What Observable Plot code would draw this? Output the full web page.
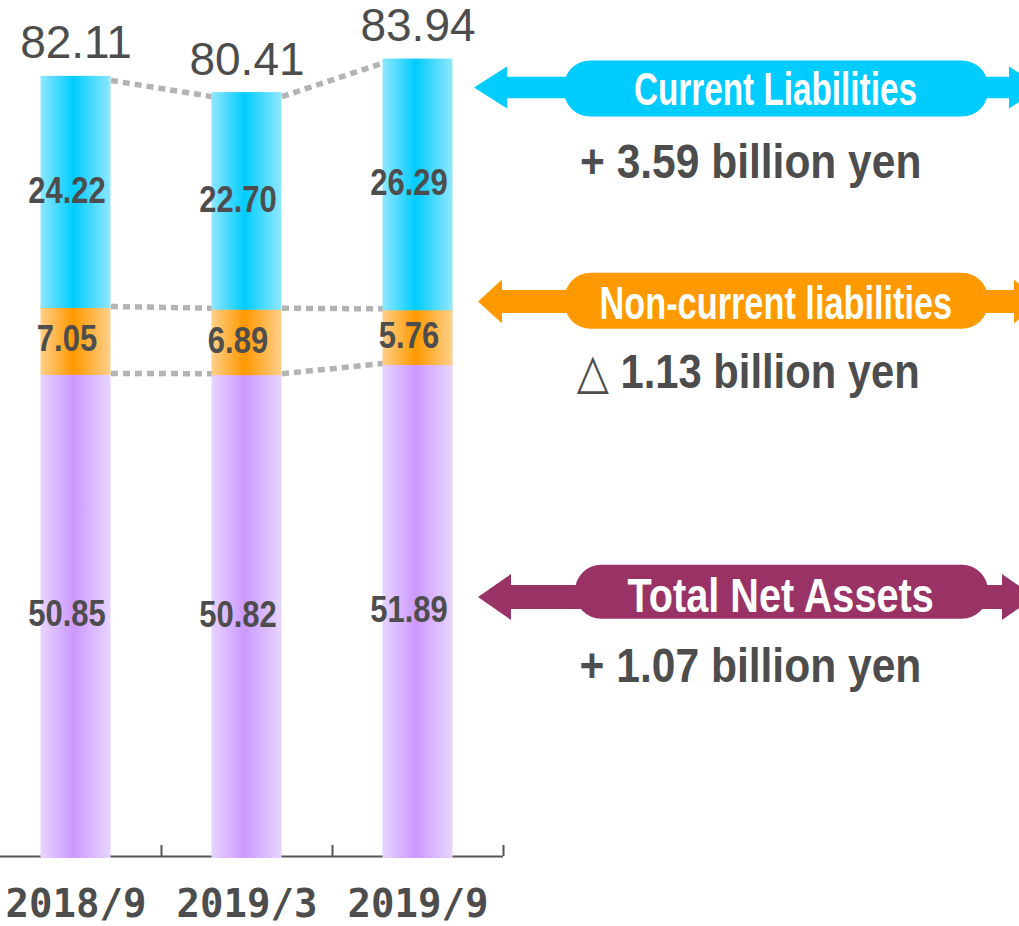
<!DOCTYPE html>
<html><head><meta charset="utf-8">
<script src="https://cdn.jsdelivr.net/npm/d3@7"></script>
<script src="https://cdn.jsdelivr.net/npm/@observablehq/plot@0.6"></script>
<style>
html,body{margin:0;padding:0;background:#fff;}
#chart{position:relative;width:1019px;height:926px;overflow:hidden;}
</style></head><body><div id="chart"></div>
<script>
// ---- data ----
const periods = ["2018/9", "2019/3", "2019/9"];
const netAssets = [50.85, 50.82, 51.89];
const nonCurrent = [7.05, 6.89, 5.76];
const current = [24.22, 22.70, 26.29];
const totals = [82.11, 80.41, 83.94];
const seriesNames = ["Total Net Assets", "Non-current liabilities", "Current Liabilities"];
const changeLabels = ["+ 1.07 billion yen", "△ 1.13 billion yen", "+ 3.59 billion yen"];

// ---- derived table ----
const seriesValues = [netAssets, nonCurrent, current];
const gradIds = ["url(#gNet)", "url(#gNon)", "url(#gCur)"];
const rows = [];
periods.forEach((p, i) => {
  let base = 0;
  seriesValues.forEach((vals, s) => {
    rows.push({i, period: p, series: seriesNames[s], value: vals[i], y1: base, y2: base + vals[i], fill: gradIds[s]});
    base += vals[i];
  });
});
const levelNet = netAssets;
const levelNon = netAssets.map((v, i) => v + nonCurrent[i]);
const links = (levels) => levels.slice(0, -1).map((v, i) => ({i, a: v, b: levels[i + 1]}));

const HALF = 35 / 171;          // bar half width in x units
const PX = 855 / 90;            // px per unit on y
const grey = "#4d4d4d";
const dash = {stroke: "#b3b3b3", strokeWidth: 5.5, strokeDasharray: "7 5"};

const chart = Plot.plot({
  width: 1019, height: 926, margin: 0,
  x: {type: "linear", domain: [-0.5, 2.5], range: [-10, 503], axis: null},
  y: {domain: [0, 90], range: [856, 1], axis: null},
  color: {type: "identity"},
  style: {background: "white", overflow: "visible"},
  marks: [
    Plot.ruleY([0], {x1: -0.5, x2: 2.5, stroke: "#555", strokeWidth: 2}),
    Plot.ruleX(periods.map((p, i) => i + 0.5), {x: d => d, y1: 0, y2: 11 / PX, stroke: "#555", strokeWidth: 2}),
    Plot.link(links(totals), {x1: d => d.i + HALF, x2: d => d.i + 1 - HALF, y1: "a", y2: "b", dy: 4, ...dash}),
    Plot.link(links(levelNon), {x1: d => d.i + HALF, x2: d => d.i + 1 - HALF, y1: "a", y2: "b", ...dash}),
    Plot.link(links(levelNet), {x1: d => d.i + HALF, x2: d => d.i + 1 - HALF, y1: "a", y2: "b", ...dash}),
    Plot.rect(rows, {x1: d => d.i - HALF, x2: d => d.i + HALF, y1: "y1", y2: "y2", fill: "fill", insetBottom: -2}),
    Plot.text(rows, {x: "i", y: d => (d.y1 + d.y2) / 2, text: d => d.value.toFixed(2), dx: -9,
      fontSize: 36, fontWeight: "bold", fontFamily: "'Liberation Sans', sans-serif", fill: grey}),
    Plot.text(totals, {x: (d, i) => i, y: d => d, text: d => d.toFixed(2), dy: -18, lineAnchor: "bottom",
      fontSize: 46, fontFamily: "'Liberation Sans', sans-serif", fill: grey}),
    Plot.text(periods, {x: (d, i) => i, y: 0, text: d => d, dy: 48, lineAnchor: "middle",
      fontSize: 39, fontWeight: "bold", fontFamily: "'DejaVu Sans Mono', monospace", fill: grey})
  ]
});

// gradients
const svg = d3.select(chart);
const defs = svg.insert("defs", ":first-child");
function grad(id, edge, mid) {
  const g = defs.append("linearGradient").attr("id", id).attr("x1", 0).attr("x2", 1).attr("y1", 0).attr("y2", 0);
  g.append("stop").attr("offset", 0).attr("stop-color", edge);
  g.append("stop").attr("offset", 0.47).attr("stop-color", mid);
  g.append("stop").attr("offset", 1).attr("stop-color", edge);
}
grad("gCur", "#90e7ff", "#00ccff");
grad("gNon", "#ffcf8a", "#ff9900");
grad("gNet", "#e7d4ff", "#cc99ff");

// annotations (layout)
const ann = [
  {color: "#00ccff", cy: 87.5, tipL: 474, baseL: 507, headH: 21, shaftH: 10.7, baseR: 1009, tipR: 1042,
   pill: [564, 60.5, 988, 116.5], label: seriesNames[2], lx: [634, 917], lb: 105.3, lfs: 47,
   sub: changeLabels[2], sx: [580, 921.5], sb: 177.8},
  {color: "#ff9900", cy: 301.5, tipL: 478, baseL: 502, headH: 22, shaftH: 11.5, baseR: 1014, tipR: 1040,
   pill: [564.5, 272.8, 988, 328.8], label: seriesNames[1], lx: [599.5, 952.3], lb: 319, lfs: 47,
   sub: changeLabels[1], sx: [576.8, 919.8], sb: 388},
  {color: "#993366", cy: 597, tipL: 478, baseL: 511, headH: 23, shaftH: 12, baseR: 1002, tipR: 1035,
   pill: [575, 564.8, 988, 618.7], label: seriesNames[0], lx: [627.5, 933.8], lb: 612, lfs: 48,
   sub: changeLabels[0], sx: [579.6, 921.5], sb: 681.7}
];
const fitTexts = [];
const g = svg.append("g");
ann.forEach(a => {
  const {cy, tipL, baseL, headH, shaftH, baseR, tipR} = a;
  const d = `M${tipL},${cy} L${baseL},${cy - headH} L${baseL},${cy - shaftH} L${baseR},${cy - shaftH} L${baseR},${cy - headH} L${tipR},${cy} L${baseR},${cy + headH} L${baseR},${cy + shaftH} L${baseL},${cy + shaftH} L${baseL},${cy + headH} Z`;
  g.append("path").attr("d", d).attr("fill", a.color);
  const [x1, y1, x2, y2] = a.pill;
  g.append("rect").attr("x", x1).attr("y", y1).attr("width", x2 - x1).attr("height", y2 - y1)
    .attr("rx", 26).attr("ry", 26).attr("fill", a.color);
  const t1 = g.append("text").attr("x", 0).attr("y", 0).attr("text-anchor", "start")
    .attr("fill", "white").attr("font-weight", "bold")
    .attr("font-size", a.lfs).attr("font-family", "'Liberation Sans', sans-serif")
    .text(a.label);
  fitTexts.push([t1, a.lx[0], a.lx[1], a.lb]);
  const t2 = g.append("text").attr("x", 0).attr("y", 0).attr("text-anchor", "start")
    .attr("fill", grey).attr("font-weight", "bold")
    .attr("font-size", 49).attr("font-family", "'Liberation Sans', 'DejaVu Sans', sans-serif")
    .text(a.sub);
  fitTexts.push([t2, a.sx[0], a.sx[1], a.sb]);
});

document.getElementById("chart").appendChild(chart);

// fit annotation texts horizontally (condensed look of the original)
fitTexts.forEach(([t, xa, xb, base]) => {
  const len = t.node().getComputedTextLength();
  t.attr("transform", `translate(${xa},${base}) scale(${(xb - xa) / len},1)`);
});

// narrow the segment labels: the text mark whose texts are 36px
svg.selectAll("g[aria-label='text']").each(function () {
  const grp = d3.select(this);
  if (grp.attr("font-size") !== "36") return;
  grp.selectAll("text").each(function () {
    const len = this.getComputedTextLength();
    d3.select(this).attr("textLength", len * 0.86).attr("lengthAdjust", "spacingAndGlyphs");
  });
});
</script>
</body></html>
